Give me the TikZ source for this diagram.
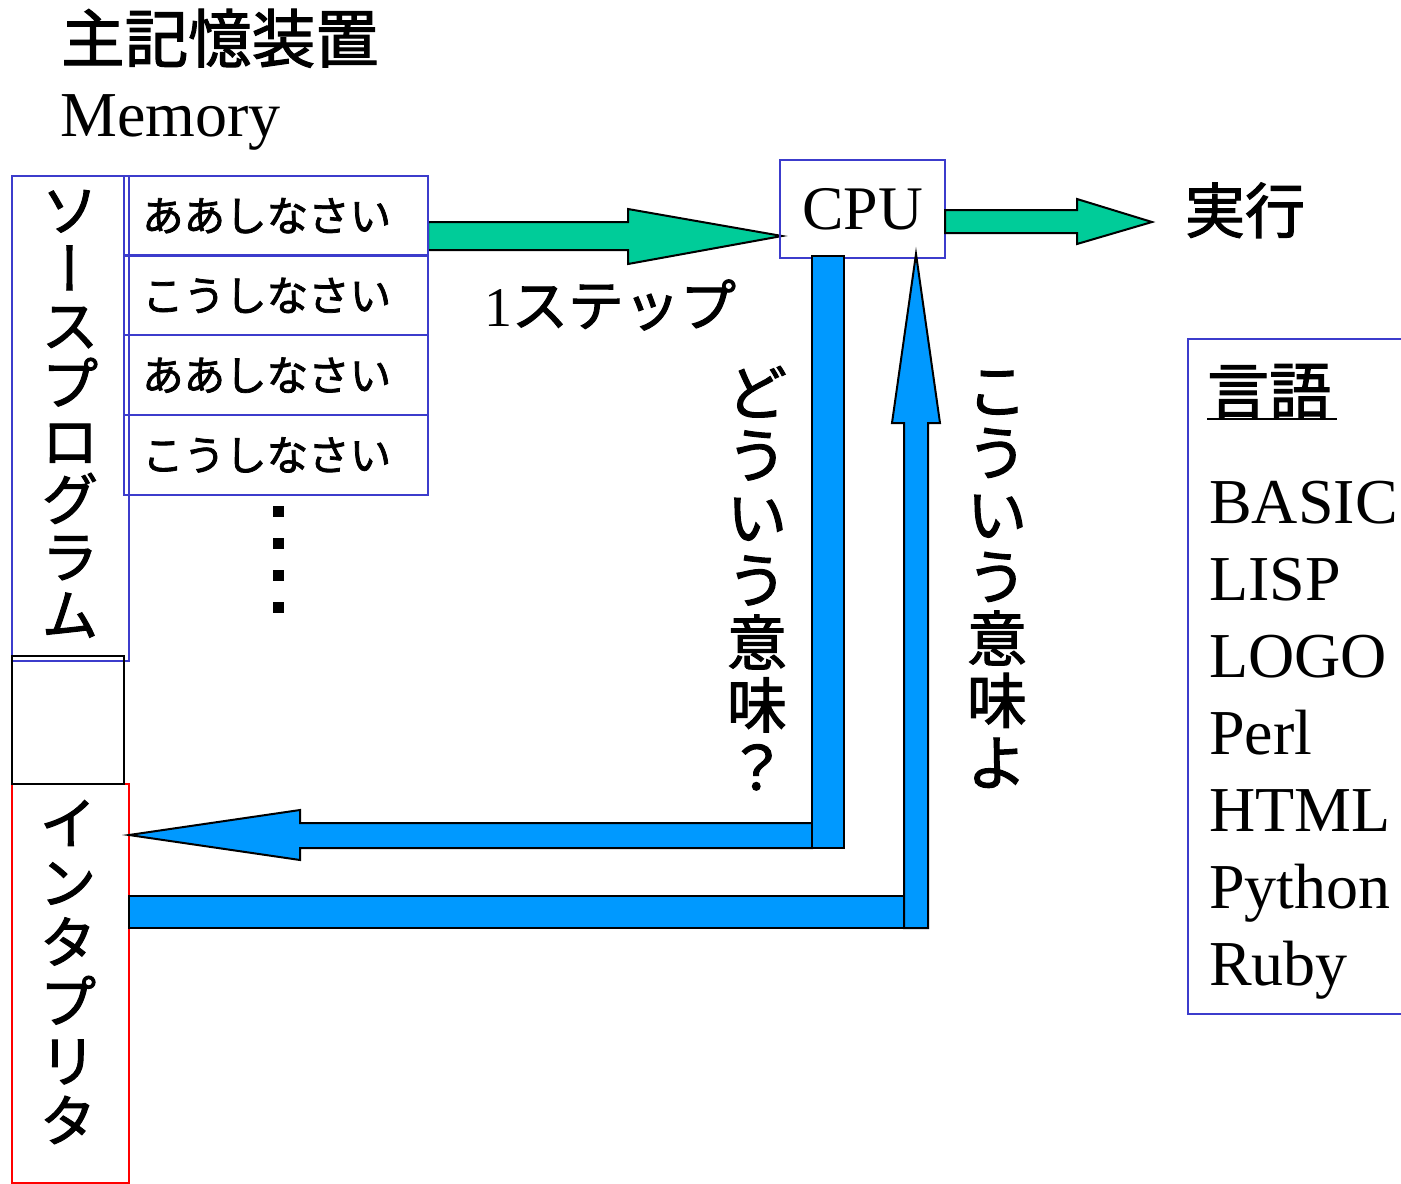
\documentclass[tikz,border=0pt]{standalone}
\usepackage{fontspec}
\usepackage{graphicx}
\setmainfont{Liberation Serif}
\newfontfamily\jp[FakeBold=1.8]{Noto Sans CJK JP}
\definecolor{boxblue}{RGB}{60,60,204}
\definecolor{arrgreen}{RGB}{0,204,153}
\definecolor{arrblue}{RGB}{0,153,255}
\definecolor{boxred}{RGB}{255,0,0}
\tikzset{
  bluebox/.style={draw=boxblue, line width=2pt, inner sep=0pt},
  redbox/.style={draw=boxred, line width=2pt, inner sep=0pt},
  blackbox/.style={draw=black, line width=2pt, inner sep=0pt},
  fatgreen/.style={fill=arrgreen, draw=black, line width=2pt, line join=miter},
  fatblue/.style={fill=arrblue, draw=black, line width=2pt, line join=miter},
  vcha/.style={font=\jp\fontsize{56}{56}\selectfont, inner sep=0pt, text height=49pt, text depth=7pt},
  vchb/.style={font=\jp\fontsize{60}{60}\selectfont, inner sep=0pt, text height=53pt, text depth=7pt},
  celltext/.style={font=\jp\fontsize{41.5}{41.5}\selectfont, inner sep=0pt, text height=36.5pt, text depth=5pt, anchor=west},
  langitem/.style={font=\fontsize{64}{64}\selectfont, inner sep=0pt, anchor=base west},
}
\begin{document}
\begin{tikzpicture}[x=1pt,y=-1pt]
\clip (0,0) rectangle (1401,1184);
\fill[white] (0,0) rectangle (1401,1184);

% headings
\node[font=\jp\fontsize{63.5}{63.5}\selectfont, inner sep=0pt, anchor=west, text height=56pt, text depth=7.5pt] (title) at (61,38) {主記憶装置};
\node[font=\fontsize{64}{64}\selectfont, inner sep=0pt, anchor=base west] (mem) at (60,136) {Memory};

% green arrow into CPU (drawn under the boxes)
\filldraw[fatgreen] (428,222) -- (628,222) -- (628,209) -- (782,236) -- (628,264) -- (628,250) -- (428,250) -- cycle;

% source program box
\node[bluebox, minimum width=117pt, minimum height=485pt] (src) at (70.5,418.5) {};
\foreach \c/\r [count=\i from 0] in {ソ/0,ー/90,ス/0,プ/0,ロ/0,グ/0,ラ/0,ム/0}
  \node[vcha, rotate=\r] (sp\i) at (70,{210+57.8*\i}) {\c};

% memory cells
\foreach \t [count=\i from 0] in {ああしなさい,こうしなさい,ああしなさい,こうしなさい}{
  \node[bluebox, minimum width=304pt, minimum height=79.5pt] (m\i) at (276,{215.5+79.75*\i}) {};
  \node[celltext] (mt\i) at ([xshift=19pt]m\i.west) {\t};
}
% vertical dots
\foreach \i in {0,1,2,3}
  \fill (273,{506+32*\i}) rectangle (284,{517+32*\i});

% interpreter box and empty black box
\node[redbox, minimum width=117pt, minimum height=399pt] (interp) at (70.5,983.5) {};
\node[blackbox, minimum width=112pt, minimum height=128pt] (gap) at (68,720) {};
\foreach \c [count=\i from 0] in {イ,ン,タ,プ,リ,タ}
  \node[vcha] (ip\i) at (68,{823+59.5*\i}) {\c};

% CPU
\node[bluebox, minimum width=165pt, minimum height=98pt, font=\fontsize{62}{62}\selectfont] (cpu) at (862.5,209) {CPU};
\filldraw[fatgreen] (945,210) -- (1077,210) -- (1077,199) -- (1152,222) -- (1077,244) -- (1077,233) -- (945,233) -- cycle;
\node[font=\jp\fontsize{60}{60}\selectfont, inner sep=0pt, text height=53pt, text depth=7pt] (exec) at (1245,210) {実行};

% 1 step label
\node[font=\fontsize{56}{56}\selectfont, inner sep=0pt] (step) at (610,305) {1{\jp ステップ}};

% blue arrow: CPU -> interpreter
\filldraw[fatblue] (812,823) -- (300,823) -- (300,810) -- (129,835) -- (300,860) -- (300,848) -- (812,848) -- cycle;
\filldraw[fatblue] (812,256) rectangle (844,848);

% blue arrow: interpreter -> CPU
\filldraw[fatblue] (129,896) rectangle (904,928);
\filldraw[fatblue] (904,928) -- (904,423) -- (892,423) -- (916,254) -- (940,423) -- (928,423) -- (928,928) -- cycle;

% vertical labels
\foreach \c [count=\i from 0] in {ど,う,い,う,意,味,？}
  \node[vchb] (q\i) at (757,{392+62.5*\i}) {\c};
\foreach \c [count=\i from 0] in {こ,う,い,う,意,味,よ}
  \node[vchb] (a\i) at (997,{390+62*\i}) {\c};

% language box
\node[bluebox, minimum width=232pt, minimum height=675pt] (lang) at (1304,676.5) {};
\node[font=\jp\fontsize{62}{62}\selectfont, inner sep=0pt, anchor=west, text height=55pt, text depth=7pt] (langt) at (1207,390) {言語};
\draw[line width=2.5pt] ([yshift=2pt]langt.south west) -- ([yshift=2pt, xshift=6pt]langt.south east);
\foreach \t [count=\i from 0] in {BASIC,LISP,LOGO,Perl,HTML,Python,Ruby}
  \node[langitem] (l\i) at (1209,{523+77*\i}) {\t};
\end{tikzpicture}
\end{document}
